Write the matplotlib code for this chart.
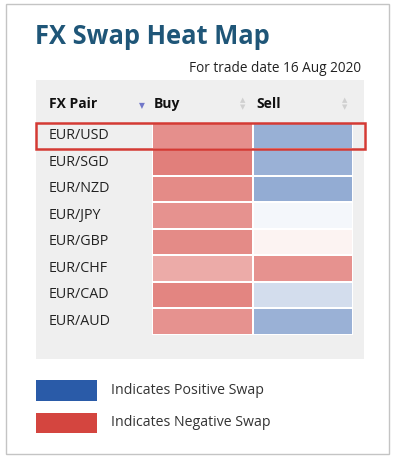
import matplotlib.pyplot as plt
import numpy as np
from matplotlib.colors import LinearSegmentedColormap
from matplotlib.patches import Rectangle
import matplotlib.transforms as mtransforms

plt.rcParams['font.family'] = ['Open Sans', 'DejaVu Sans']

# data: swap intensity, -1 = strongly negative, +1 = strongly positive
pairs = ['EUR/USD', 'EUR/SGD', 'EUR/NZD', 'EUR/JPY',
         'EUR/GBP', 'EUR/CHF', 'EUR/CAD', 'EUR/AUD']
columns = ['Buy', 'Sell']
buy = [-0.60, -0.68, -0.62, -0.58, -0.62, -0.45, -0.65, -0.58]
sell = [0.48, 0.47, 0.50, 0.05, -0.07, -0.58, 0.21, 0.47]
highlight = 'EUR/USD'
subtitle = 'For trade date 16 Aug 2020'

W, H = 394, 458
fig = plt.figure(figsize=(W / 100, H / 100), dpi=100)
fig.patch.set_facecolor('white')

# background axes in pixel coordinates
bg = fig.add_axes([0, 0, 1, 1])
bg.set_xlim(0, W)
bg.set_ylim(H, 0)
bg.axis('off')

bg.add_patch(Rectangle((6, 4), 383, 450, fill=False, ec='#c4c4c4', lw=1))
bg.add_patch(Rectangle((36, 80), 328, 279, fc='#efefef', ec='none'))

bg.text(35, 36, 'FX Swap Heat Map', fontsize=18.4, fontweight='bold',
        color='#1f5678', va='center', ha='left')
bg.text(361, 69, subtitle, fontsize=9.8, color='#222222', va='center', ha='right')

# header
bg.text(49, 104, 'FX Pair', fontsize=10, fontweight='bold', color='#111111', va='center')
bg.text(142, 107, '\u25BC', fontsize=5.5, color='#7177c9', va='center', ha='center')
bg.text(154, 104, columns[0], fontsize=10, fontweight='bold', color='#111111', va='center')
bg.text(256, 104, columns[1], fontsize=10, fontweight='bold', color='#111111', va='center')
for ax_x in (243, 345):
    bg.text(ax_x, 101, '\u25B2', fontsize=5, color='#d0d0d0', va='center', ha='center')
    bg.text(ax_x, 108, '\u25BC', fontsize=5, color='#d0d0d0', va='center', ha='center')

# legend
bg.add_patch(Rectangle((36, 380), 61, 21, fc='#2a5ba8', ec='none'))
bg.add_patch(Rectangle((36, 413), 61, 20, fc='#d4453f', ec='none'))
bg.text(111, 390, 'Indicates Positive Swap', fontsize=10.2, color='#333333', va='center')
bg.text(111, 422, 'Indicates Negative Swap', fontsize=10.2, color='#333333', va='center')

# heatmap
cmap = LinearSegmentedColormap.from_list('swap', ['#d4453f', '#ffffff', '#2a5ba8'])
vals = np.column_stack([buy, sell])
hm = fig.add_axes([152 / W, 1 - 334.5 / H, 201.5 / W, 212 / H])
hm.pcolormesh(np.arange(len(columns) + 1) - 0.5, np.arange(len(pairs) + 1) - 0.5, vals,
              cmap=cmap, vmin=-1, vmax=1, edgecolors='white', linewidth=1.4)
hm.set_xlim(-0.5, len(columns) - 0.5)
hm.set_ylim(len(pairs) - 0.5, -0.5)
hm.axis('off')

# row labels
trans = mtransforms.blended_transform_factory(fig.transFigure, hm.transData)
for i, p in enumerate(pairs):
    hm.text(49 / W, i, p, transform=trans, fontsize=10.3, color='#222222',
            va='center', ha='left', clip_on=False)

# highlighted row outline
r = pairs.index(highlight)
hm.add_patch(Rectangle((36 / W, r - 0.5), 329 / W, 1.0, transform=trans, fill=False,
                       ec='#d43a34', lw=1.8, clip_on=False, zorder=5))

fig.savefig('out.png', dpi=100, facecolor='white')
